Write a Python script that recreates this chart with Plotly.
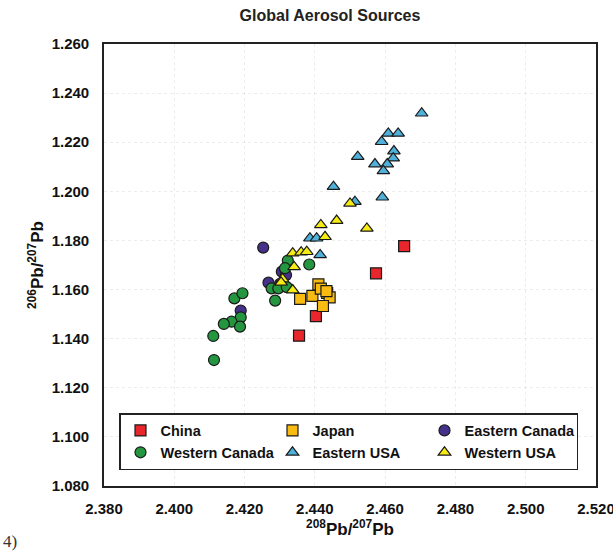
import plotly.graph_objects as go

# ---- data ----
china_x = [2.4355, 2.4403, 2.4574, 2.4654]
china_y = [1.1412, 1.1492, 1.1666, 1.1777]

japan_x = [2.4358, 2.4393, 2.4410, 2.4417, 2.4435, 2.4442, 2.4423, 2.4433]
japan_y = [1.1562, 1.1574, 1.1621, 1.1604, 1.1586, 1.1568, 1.1533, 1.1594]

ecan_x = [2.4253, 2.4306, 2.4268, 2.4189, 2.4318, 2.4301]
ecan_y = [1.1771, 1.1673, 1.1628, 1.1514, 1.1659, 1.1623]

wcan_x = [2.4323, 2.4384, 2.4315, 2.4277, 2.4296, 2.4320, 2.4287, 2.4171,
          2.4194, 2.4189, 2.4163, 2.4141, 2.4187, 2.4111, 2.4113]
wcan_y = [1.1718, 1.1702, 1.1687, 1.1605, 1.1605, 1.1610, 1.1555, 1.1564,
          1.1585, 1.1487, 1.1469, 1.1460, 1.1449, 1.1411, 1.1313]

eusa_x = [2.4704, 2.4609, 2.4637, 2.4590, 2.4625, 2.4623, 2.4606, 2.4571,
          2.4595, 2.4522, 2.4453, 2.4592, 2.4514, 2.4386, 2.4405, 2.4415]
eusa_y = [1.2318, 1.2236, 1.2236, 1.2202, 1.2164, 1.2135, 1.2111, 1.2111,
          1.2083, 1.2141, 1.2019, 1.1976, 1.1958, 1.1809, 1.1809, 1.1741]

wusa_x = [2.4337, 2.4361, 2.4377, 2.4429, 2.4417, 2.4462, 2.4500, 2.4548,
          2.4341, 2.4308, 2.4304, 2.4337]
wusa_y = [1.1748, 1.1752, 1.1754, 1.1815, 1.1863, 1.1881, 1.1951, 1.1849,
          1.1692, 1.1643, 1.1629, 1.1598]

x_ticks = [2.380, 2.400, 2.420, 2.440, 2.460, 2.480, 2.500, 2.520]
y_ticks = [1.080, 1.100, 1.120, 1.140, 1.160, 1.180, 1.200, 1.220, 1.240, 1.260]

series = [
    ("China", china_x, china_y, "square", "#E8262B"),
    ("Japan", japan_x, japan_y, "square", "#F7BB12"),
    ("Eastern Canada", ecan_x, ecan_y, "circle", "#45308A"),
    ("Western Canada", wcan_x, wcan_y, "circle", "#23963F"),
    ("Eastern USA", eusa_x, eusa_y, "triangle-up", "#4FB0DA"),
    ("Western USA", wusa_x, wusa_y, "triangle-up", "#F6EC13"),
]

FONT = "Liberation Sans, Arial, sans-serif"
L, R, T, B = 104, 17, 44, 70
PW, PH = 613 - L - R, 556 - T - B

fig = go.Figure()
for name, xs, ys, sym, col in series:
    fig.add_trace(go.Scatter(
        x=xs, y=ys, mode="markers", name=name,
        marker=dict(symbol=sym, size=11, color=col,
                    line=dict(color="#1a1a1a", width=1.2)),
    ))

axis_common = dict(
    showline=True, linecolor="#222", linewidth=1.6, mirror=True,
    ticks="", showgrid=True, gridcolor="rgba(0,0,0,0.07)", griddash="dot",
    zeroline=False, automargin=False, ticklabeloverflow="allow",
    tickfont=dict(family=FONT, size=15, color="#111", weight="bold"),
)

fig.update_layout(
    width=613, height=556,
    margin=dict(l=L, r=R, t=T, b=B),
    paper_bgcolor="white", plot_bgcolor="white",
    font=dict(family=FONT, color="#111"),
    title=dict(text="<b>Global Aerosol Sources</b>", x=330/613, xref="container",
               xanchor="center", y=1-15/556, yref="container", yanchor="middle",
               automargin=False,
               font=dict(family=FONT, size=16, color="#222")),
    xaxis=dict(range=[2.380, 2.520], tickvals=x_ticks,
               ticktext=[f"{v:.3f}" for v in x_ticks],
               ticklabelstandoff=8,
               title=dict(text="<b><sup>208</sup>Pb/<sup>207</sup>Pb</b>",
                          font=dict(family=FONT, size=17, color="#111"),
                          standoff=4),
               **axis_common),
    yaxis=dict(range=[1.080, 1.260], tickvals=y_ticks,
               ticktext=[f"{v:.3f}" for v in y_ticks],
               ticklabelstandoff=10,
               title=dict(text="<b><sup>206</sup>Pb/<sup>207</sup>Pb</b>",
                          font=dict(family=FONT, size=17, color="#111"),
                          standoff=4),
               **axis_common),
    legend=dict(orientation="h", x=(119-L)/PW, xanchor="left",
                y=(486-413)/PH, yanchor="top",
                bgcolor="white", bordercolor="#222", borderwidth=1.5,
                entrywidth=107, entrywidthmode="pixels",
                font=dict(family=FONT, size=14.5, color="#111", weight="bold"),
                itemwidth=30, tracegroupgap=0),
    showlegend=True,
)

fig.add_annotation(text="4)", xref="paper", yref="paper",
                   x=(1-L)/PW, y=(486-541)/PH, xanchor="left", yanchor="middle",
                   showarrow=False,
                   font=dict(family="Liberation Serif, serif", size=17, color="#333"))

fig.write_html("out.html", config={"displayModeBar": False},
               post_script="document.body.style.margin='0';document.body.style.padding='0';")
